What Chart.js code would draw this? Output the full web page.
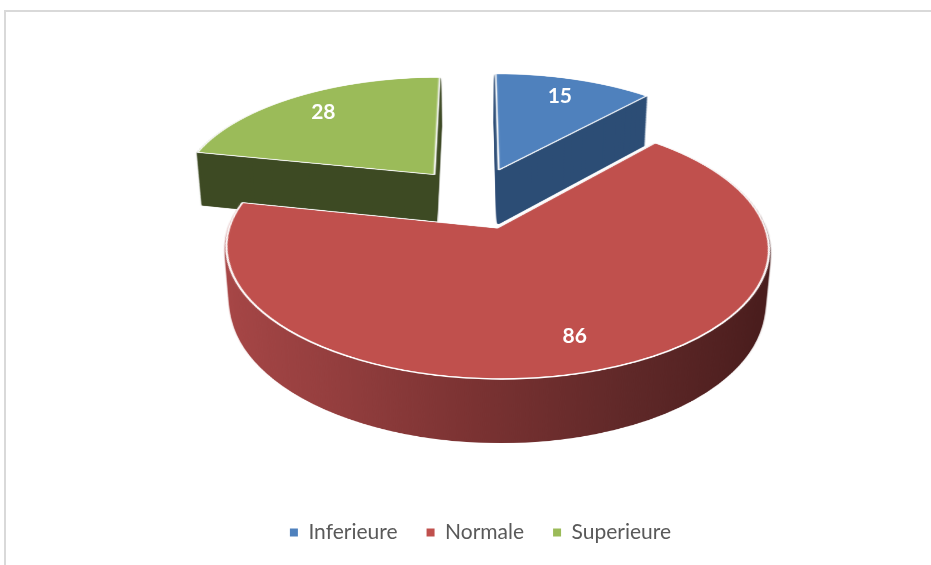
<!DOCTYPE html>
<html><head><meta charset="utf-8">
<script src="https://cdn.jsdelivr.net/npm/chart.js@4/dist/chart.umd.min.js"></script>
<style>html,body{margin:0;padding:0;background:#fff;overflow:hidden}canvas{display:block}</style>
</head><body>
<canvas id="c" width="931" height="565"></canvas>
<script>
// ---- data ----
const categories = ['Inferieure', 'Normale', 'Superieure'];
const counts = [15, 86, 28];

// ---- styles ----
const topColors = ['#4f81bd', '#c0504d', '#9bbb59'];
const sideColors = ['#2c4d75', null, '#3d4a23'];
const redSideStops = [[0, '#ab4848'], [0.25, '#963f3f'], [0.5, '#7a3232'], [0.75, '#5f2828'], [1, '#4a1d1d']];
const view = { cx: 475.5, cy: 197.7, F: 258, tilt: 27.25, dist: 5.93, depth: 0.245, explode: 0.26, labelR: 0.79, layers: 70 };

const pie3d = {
  id: 'pie3d',
  beforeDraw(chart) {
    const ctx = chart.ctx;
    ctx.save();
    ctx.fillStyle = '#fff';
    ctx.fillRect(0, 0, chart.width, chart.height);
    ctx.strokeStyle = '#d9d9d9';
    ctx.lineWidth = 2;
    ctx.strokeRect(5, 11, 1000, 1000);
    ctx.restore();
  },
  beforeDatasetsDraw(chart) {
    const ctx = chart.ctx;
    const meta = chart.getDatasetMeta(0);
    const els = meta.data;
    if (!els.length) return false;
    const R = els[0].outerRadius;
    const ROFF = 320, E = view.explode;
    const SZ = Math.ceil(2 * ROFF * (1 + E) + 40), O = SZ / 2;
    const sc = ROFF / R;
    const mk = () => { const c = document.createElement('canvas'); c.width = SZ; c.height = SZ; return c; };
    const topC = mk(), sideC = mk(), tmp = mk();
    const tc = topC.getContext('2d'), sx = sideC.getContext('2d'), mc = tmp.getContext('2d');
    const centers = els.map(el => {
      const m = (el.startAngle + el.endAngle) / 2;
      return [Math.cos(m) * E, Math.sin(m) * E, m];
    });
    els.forEach((el, i) => {
      const [eu, ev] = centers[i];
      const tf = [sc, 0, 0, sc, O + eu * ROFF - el.x * sc, O + ev * ROFF - el.y * sc];
      tc.setTransform(...tf); el.draw(tc);
      mc.setTransform(1, 0, 0, 1, 0, 0); mc.clearRect(0, 0, SZ, SZ);
      mc.setTransform(...tf); el.draw(mc);
      mc.setTransform(1, 0, 0, 1, 0, 0);
      mc.globalCompositeOperation = 'source-in';
      if (sideColors[i]) mc.fillStyle = sideColors[i];
      else {
        const g = mc.createLinearGradient(O - ROFF, 0, O + ROFF, 0);
        redSideStops.forEach(([t, c]) => g.addColorStop(t, c));
        mc.fillStyle = g;
      }
      mc.fillRect(0, 0, SZ, SZ);
      mc.globalCompositeOperation = 'source-over';
      sx.drawImage(tmp, 0, 0);
    });

    const A = view.tilt * Math.PI / 180, sA = Math.sin(A), cA = Math.cos(A), L = view.dist;
    const half = O / ROFF;
    const vAt = (y, h) => { const Y = (y - view.cy) / view.F; return (Y * (1 - h * sA / L) + h * cA) / (sA + Y * cA / L); };
    ctx.save();
    ctx.imageSmoothingEnabled = true;
    ctx.imageSmoothingQuality = 'high';
    const warp = (img, h) => {
      for (let y = 0; y < chart.height; y++) {
        const v0 = vAt(y, h), v1 = vAt(y + 1, h);
        if (v0 < -half || v1 > half) continue;
        const d = 1 - (((v0 + v1) / 2) * cA + h * sA) / L;
        const dw = 2 * view.F * half / d;
        ctx.drawImage(img, 0, O + v0 * ROFF, SZ, (v1 - v0) * ROFF, view.cx - dw / 2, y, dw, 1);
      }
    };
    const N = view.layers, H = view.depth;
    for (let k = 0; k < N; k++) warp(sideC, -H * (1 - k / N));
    warp(topC, 0);

    // data labels
    const vals = chart.data.datasets[0].data;
    ctx.fillStyle = '#ffffff';
    ctx.font = 'bold 21px Lato';
    ctx.textAlign = 'center';
    ctx.textBaseline = 'middle';
    els.forEach((el, i) => {
      const [eu, ev, m] = centers[i];
      const u = eu + Math.cos(m) * view.labelR, v = ev + Math.sin(m) * view.labelR;
      const d = 1 - v * cA / L;
      ctx.fillText(String(vals[i]), view.cx + view.F * u / d, view.cy + view.F * sA * v / d);
    });
    ctx.restore();
    return false;
  }
};

new Chart(document.getElementById('c'), {
  type: 'pie',
  data: {
    labels: categories,
    datasets: [{
      data: counts,
      backgroundColor: topColors,
      borderColor: '#ffffff',
      borderWidth: 2,
      hoverOffset: 0
    }]
  },
  options: {
    responsive: false,
    animation: false,
    events: [],
    layout: { padding: { left: 30, right: 0, top: 0, bottom: 12 } },
    plugins: {
      tooltip: { enabled: false },
      legend: {
        position: 'bottom',
        labels: {
          boxWidth: 8, boxHeight: 8, padding: 29, color: '#595959',
          font: { family: 'Lato', size: 21 },
          generateLabels: (chart) => chart.data.labels.map((t, i) => ({
            text: t, fillStyle: topColors[i], strokeStyle: topColors[i], lineWidth: 0,
            hidden: false, index: i, fontColor: '#595959'
          }))
        }
      }
    }
  },
  plugins: [pie3d]
});
</script>
</body></html>
